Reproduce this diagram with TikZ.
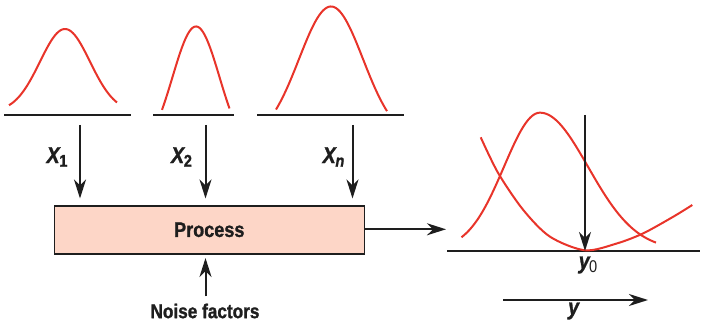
\documentclass[tikz,border=0pt]{standalone}
\usepackage{fontspec}
\setmainfont{Liberation Sans}[FakeStretch=0.86, BoldFeatures={FakeBold=1.2}, BoldItalicFeatures={FakeBold=1.2}]
\usetikzlibrary{arrows.meta}
\definecolor{curvered}{RGB}{232,52,42}
\definecolor{boxfill}{RGB}{253,214,199}
\definecolor{ink}{RGB}{30,30,30}
\tikzset{
  bell/.style={curvered, line width=1pt, smooth},
  axisline/.style={ink, line width=1pt},
  flow/.style={ink, line width=1pt, -{Stealth[length=9.5pt, width=6pt, inset=3pt]}},
  lbl/.style={font=\bfseries\fontsize{11.5}{13}\selectfont, text=ink, inner sep=0pt},
}
\newcommand{\sub}[1]{\kern-0.06em\raisebox{-0.3ex}{\fontsize{8.5}{9}\selectfont #1}}
\begin{document}
\begin{tikzpicture}[x=0.5pt, y=-0.5pt]
\useasboundingbox (0,0) rectangle (702,325);
% top distributions
\draw[bell] plot[domain=9:117, samples=60] (\x, {112-83*exp(-((\x-65)/25)^2/2)});
\draw[bell] plot[domain=162:229.5, samples=60] (\x, {155-128.5*exp(-((\x-196)/23.5)^2/2)});
\draw[bell] plot[domain=276:387, samples=60] (\x, {140-133.5*exp(-((\x-331)/32)^2/2)});
\coordinate (b1l) at (4,115.5); \coordinate (b1r) at (130.5,115.5);
\coordinate (b2l) at (153,115.5); \coordinate (b2r) at (233.5,115.5);
\coordinate (b3l) at (257,115.5); \coordinate (b3r) at (404,115.5);
\draw[axisline] (b1l) -- (b1r);
\draw[axisline] (b2l) -- (b2r);
\draw[axisline] (b3l) -- (b3r);
% process box
\node[draw=ink, line width=0.8pt, fill=boxfill, minimum width=155pt, minimum height=24pt, inner sep=0pt, anchor=north west,
      lbl, font=\bfseries\fontsize{10.5}{12}\selectfont] (proc) at (53.5,205) {Process};
% input arrows
\coordinate (a1) at (80,125); \coordinate (a2) at (205.5,125); \coordinate (a3) at (352.5,125);
\coordinate (e1) at (80,198.5); \coordinate (e2) at (205.5,198.5); \coordinate (e3) at (352.5,198.5);
\draw[flow] (a1) -- (e1);
\draw[flow] (a2) -- (e2);
\draw[flow] (a3) -- (e3);
\node[lbl] (x1) at (57,157) {\textit{X}\sub{1}};
\node[lbl] (x2) at (181.5,157) {\textit{X}\sub{2}};
\node[lbl] (xn) at (333.5,157) {\textit{X}\sub{\textit{n}}};
% noise
\node[lbl, font=\bfseries\fontsize{10}{11}\selectfont] (noise) at (205,311) {Noise factors};
\coordinate (nb) at (205.5,296.5);
\coordinate (nt) at (205.5,258);
\draw[flow] (nb) -- (nt);
% output
\coordinate (outend) at (446,229.3);
\draw[flow] (proc.east |- outend) -- (outend);
% right panel
\coordinate (rl) at (447,251.5); \coordinate (rr) at (700,251.5);
\draw[axisline] (rl) -- (rr);
\draw[bell] plot[domain=461.5:540, samples=50] (\x, {250-137.3*exp(-((\x-540)/36)^2/2)})
  -- plot[domain=540:656, samples=60] (\x, {250-137.3*exp(-((\x-540)/48)^2/2)});
\draw[bell] plot coordinates {(480.7,137.3) (498.3,173.3) (523.3,210) (550,236.7) (585,250.3) (616.7,243.5) (643.3,233.3) (673.3,216.7) (692.3,205)};
\coordinate (vt) at (585,115);
\coordinate (vb) at (585,251);
\draw[flow] (vt) -- (vb);
\node[lbl] (y0) at (588,265) {\textit{y}\sub{\mdseries 0}};
\coordinate (ys) at (503,300); \coordinate (ye) at (648,300);
\draw[flow] (ys) -- (ye);
\node[lbl] (ylab) at (574,311) {\textit{y}};
\end{tikzpicture}
\end{document}
